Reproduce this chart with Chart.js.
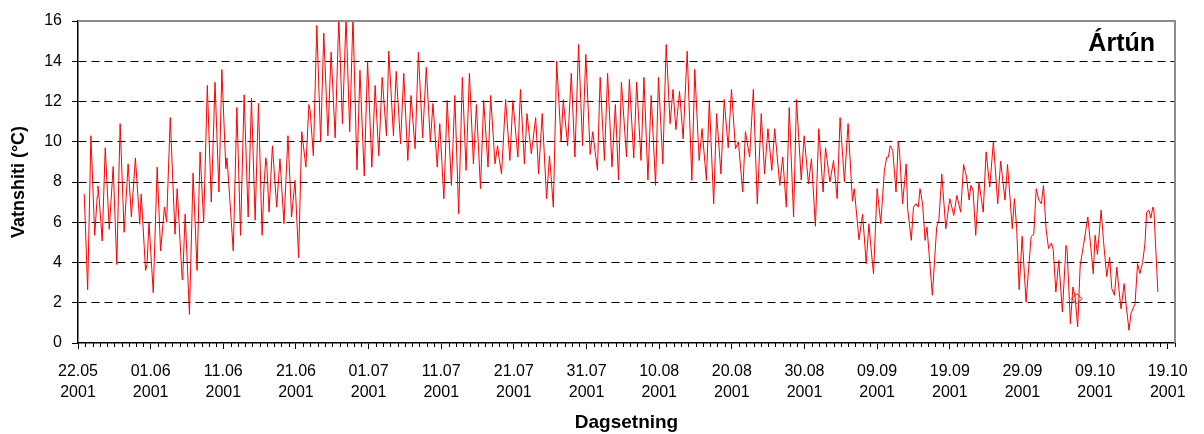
<!DOCTYPE html>
<html><head><meta charset="utf-8">
<script src="https://cdn.jsdelivr.net/npm/chart.js@4/dist/chart.umd.min.js"></script>
<style>html,body{margin:0;padding:0;background:#fff;overflow:hidden}</style>
</head><body>
<canvas id="c" width="1204" height="434"></canvas>
<script>
// x tick labels (every 10 days from 22.05.2001)
const dateLabels = ['22.05','01.06','11.06','21.06','01.07','11.07','21.07','31.07','10.08','20.08','30.08','09.09','19.09','29.09','09.10','19.10'];
const yearLabel = '2001';
const yTickValues = [0,1,2,3,4,5,6,7,8,9,10,11,12,13,14,15,16];
const plotTitle = 'Ártún';
const xTitle = 'Dagsetning';
const yTitle = 'Vatnshiti (°C)';

// days after 22.05.2001 00:00
const days = [
0.86,1.33,1.78,2.3,2.65,2.75,2.9,3.33,3.75,4.3,4.84,5.34,5.8,6.35,6.9,7.35,7.9,8.5,8.7,9.3,9.5,9.77,10.36,10.9,11.37,11.9,12.2,12.7,13.35,
13.65,14.34,14.45,14.75,15.34,15.84,16.39,16.8,17.3,17.8,18.35,18.86,19.4,19.8,20.35,20.5,20.6,21.37,21.87,22.37,22.87,23.42,23.88,24.38,24.84,25.34,25.6,25.85,26.0,26.3,26.76,
27.35,27.8,28.35,28.9,29.4,29.87,30.37,30.8,31.37,31.78,31.95,32.4,32.87,33.4,33.83,34.4,34.84,35.4,35.9,36.4,36.9,37.4,37.85,38.4,38.81,39.4,39.86,
40.45,40.9,41.4,41.87,42.46,42.78,43.42,43.8,44.4,44.84,45.4,45.84,46.4,46.85,47.44,47.94,48.5,48.86,49.45,49.8,50.36,50.82,51.4,51.87,52.4,52.9,53.42,53.88,
54.43,54.84,55.4,55.84,56.44,56.8,57.4,57.75,58.0,58.3,58.86,59.45,59.86,60.55,60.9,61.45,61.8,62.4,63.0,63.4,63.9,64.5,64.9,65.43,65.89,66.5,66.8,67.4,67.9,
68.4,68.9,69.45,69.9,70.5,70.85,71.5,71.87,72.46,72.9,73.5,73.97,74.4,74.8,75.5,75.9,76.5,76.9,77.5,77.9,78.45,78.9,79.5,79.9,80.5,80.96,81.5,
81.9,82.3,82.8,83.3,83.85,84.5,84.9,85.5,85.9,86.5,86.9,87.5,87.9,88.5,88.95,89.5,89.95,90.5,90.9,91.5,91.87,92.45,92.96,93.5,94.05,94.5,94.97,
95.5,95.9,96.6,97.0,97.5,97.9,98.5,98.9,99.55,99.95,100.55,100.96,101.5,101.97,102.56,102.9,103.5,104.0,104.5,104.9,105.5,106.0,106.6,106.85,107.5,108.0,108.5,
108.87,109.1,109.5,110.0,110.5,111.0,111.33,111.55,111.8,112.15,112.6,112.9,113.07,113.5,114.0,114.2,114.7,115.0,115.35,115.67,115.9,116.26,116.6,116.86,117.6,118.2,118.5,118.9,119.45,120.0,120.55,120.97,121.5,121.9,122.3,
122.66,122.9,123.2,123.57,124.0,124.35,124.6,125.0,125.5,126.0,126.6,127.0,127.6,127.95,128.6,128.9,129.2,129.55,129.96,130.5,131.2,131.56,131.9,132.25,132.6,132.9,133.25,133.6,134.0,134.25,134.6,135.0,135.5,136.0,
136.15,136.6,136.95,137.25,137.6,137.95,138.4,139.0,139.37,139.75,140.0,140.33,140.83,141.15,141.4,141.6,142.0,142.3,142.66,143.0,143.3,143.57,144.0,144.26,144.67,144.94,145.2,145.5,145.85,146.17,146.54,146.86,147.1,147.4,147.68,147.95,148.1,148.64
];
// water temperature, °C
const temps = [
7.4,2.65,10.3,5.35,7.3,7.8,7.25,5.07,9.7,5.65,8.77,3.9,10.9,5.5,8.9,6.26,9.2,5.9,7.4,3.6,3.9,6.0,2.5,8.74,4.57,6.75,6.0,11.2,5.4,
7.67,3.15,3.6,6.4,1.42,8.44,3.6,9.5,6.0,12.8,7.0,12.96,7.5,13.58,8.66,9.2,8.74,4.57,11.7,5.35,12.33,6.26,12.17,6.1,11.9,5.35,7.8,9.2,8.8,6.5,9.8,
6.75,9.15,5.93,10.3,6.26,8.08,4.24,10.5,8.74,11.85,11.55,9.3,15.78,10.0,15.4,10.3,14.45,10.2,16.2,10.9,16.2,10.5,16.2,8.6,13.55,8.3,14.0,
8.74,12.8,9.3,13.2,10.3,14.5,10.3,13.5,9.9,13.4,9.07,12.3,9.65,14.45,10.2,13.7,10.0,11.9,8.74,10.9,7.17,12.05,7.83,12.3,6.42,13.2,8.58,13.4,
8.9,11.85,7.67,12.05,8.74,12.3,8.9,9.8,9.1,8.4,12.1,9.07,12.05,9.24,12.6,8.9,11.4,9.4,11.2,8.4,11.4,7.17,9.3,6.75,14.0,10.0,12.1,9.8,13.4,
9.24,14.83,9.8,14.34,9.37,10.5,8.58,13.2,9.07,13.4,8.74,11.85,8.1,12.96,9.24,13.1,9.2,12.96,9.07,13.2,8.1,12.3,7.83,13.2,8.9,14.83,10.9,
12.6,10.6,12.5,10.15,14.5,8.08,13.6,9.07,10.65,8.08,12.05,6.92,11.4,8.4,12.1,9.7,12.6,9.65,10.0,7.5,10.5,9.24,12.6,6.92,11.4,8.4,10.65,
8.58,10.65,7.83,9.24,6.75,11.7,6.26,12.1,8.1,10.3,7.9,9.15,5.8,10.65,7.5,9.7,8.0,9.07,7.17,11.2,8.0,10.9,7.05,7.67,5.13,6.4,3.94,
5.93,4.93,3.44,7.67,5.93,8.58,9.24,9.24,9.8,9.57,7.5,10.0,9.57,6.92,8.9,6.67,5.1,6.75,6.92,6.75,7.67,6.9,5.1,5.76,2.37,5.76,6.1,8.4,5.68,7.17,6.34,7.33,6.5,8.87,8.25,
7.1,7.83,7.6,5.35,8.0,7.17,6.5,9.5,7.75,10.0,6.92,9.04,7.1,8.87,5.68,7.17,5.76,2.65,5.3,2.04,5.3,5.4,7.67,7.1,6.92,7.83,5.68,4.69,4.97,4.6,2.53,4.1,1.54,4.85,
4.6,0.96,2.78,2.3,0.8,3.85,4.85,6.26,4.93,3.44,5.35,4.4,6.6,5.1,4.1,3.3,4.27,2.7,2.37,3.77,2.6,1.7,2.95,1.95,0.63,1.46,1.7,1.95,3.94,3.45,4.0,4.93,6.5,6.6,6.2,6.75,6.6,2.53
];
// single highlighted reading (open diamond marker)
const markerDays = [137.5];
const markerTemps = [2.2];

const FONT = "'Liberation Sans', Arial, sans-serif";

const framePlugin = {
  id: 'frame',
  afterDraw(chart) {
    const {ctx, chartArea: a, scales} = chart;
    ctx.save();
    // gray top and right frame
    ctx.strokeStyle = '#8c8c8c';
    ctx.lineWidth = 2;
    ctx.beginPath();
    ctx.moveTo(a.left, a.top);
    ctx.lineTo(a.right, a.top);
    ctx.lineTo(a.right, a.bottom);
    ctx.stroke();
    // minor daily ticks on x axis
    const xs = scales.x;
    ctx.strokeStyle = '#000';
    ctx.lineWidth = 1;
    ctx.beginPath();
    for (let d = 1; d <= Math.floor(xs.max); d++) {
      if (d % 10 === 0) continue;
      const px = Math.round(xs.getPixelForValue(d)) + 0.5;
      ctx.moveTo(px, a.bottom);
      ctx.lineTo(px, a.bottom + 4);
    }
    ctx.stroke();
    // in-plot title
    ctx.fillStyle = '#000';
    ctx.font = 'bold 25px ' + FONT;
    ctx.textAlign = 'right';
    ctx.textBaseline = 'alphabetic';
    ctx.fillText(plotTitle, a.right - 20, a.top + 30);
    ctx.restore();
  }
};

new Chart(document.getElementById('c'), {
  type: 'line',
  data: {
    datasets: [{
      data: days.map((d, i) => ({x: d, y: temps[i]})),
      borderColor: '#ff0000',
      borderWidth: 1,
      pointRadius: 0,
      tension: 0,
      fill: false
    }, {
      data: markerDays.map((d, i) => ({x: d, y: markerTemps[i]})),
      showLine: false,
      pointStyle: 'rectRot',
      pointRadius: 5,
      pointBorderWidth: 1,
      pointBorderColor: '#ff0000',
      pointBackgroundColor: 'rgba(0,0,0,0)'
    }]
  },
  options: {
    responsive: false,
    animation: false,
    devicePixelRatio: 1,
    layout: {padding: {top: 21, right: 29, left: 0, bottom: 0}},
    plugins: {legend: {display: false}, tooltip: {enabled: false}},
    scales: {
      x: {
        type: 'linear',
        min: 0, max: 151,
        afterBuildTicks: s => { s.ticks = dateLabels.map((_, i) => ({value: i * 10})); },
        afterFit: s => { s.height = 91; },
        ticks: {
          autoSkip: false, maxRotation: 0, color: '#000', padding: 12,
          font: {family: FONT, size: 16, lineHeight: 1.3},
          callback: (v, i) => [dateLabels[i], yearLabel]
        },
        grid: {drawOnChartArea: false, drawTicks: true, tickLength: 6, color: '#000', tickColor: '#000'},
        border: {color: '#000', width: 1.5},
        title: {display: true, text: xTitle, color: '#000', font: {family: FONT, size: 19, weight: 'bold'}, padding: {top: 0, bottom: 0}}
      },
      y: {
        min: 0, max: 16,
        afterBuildTicks: s => { s.ticks = yTickValues.map(v => ({value: v})); },
        afterFit: s => { s.width = 78; },
        ticks: {
          color: '#000', padding: 10,
          font: {family: FONT, size: 16},
          callback: v => (v % 2 === 0 ? String(v) : '')
        },
        grid: {
          drawTicks: true, tickLength: 6, tickColor: '#000', lineWidth: 1,
          color: c => (c.tick && c.tick.value % 2 === 0 && c.tick.value > 0 && c.tick.value < 16) ? '#000' : 'rgba(0,0,0,0)'
        },
        border: {color: '#000', width: 1.5, dash: [8, 5]},
        title: {display: true, text: yTitle, color: '#000', font: {family: FONT, size: 18, weight: 'bold'}, padding: {top: 8, bottom: 0}}
      }
    }
  },
  plugins: [framePlugin]
});
</script>
</body></html>
